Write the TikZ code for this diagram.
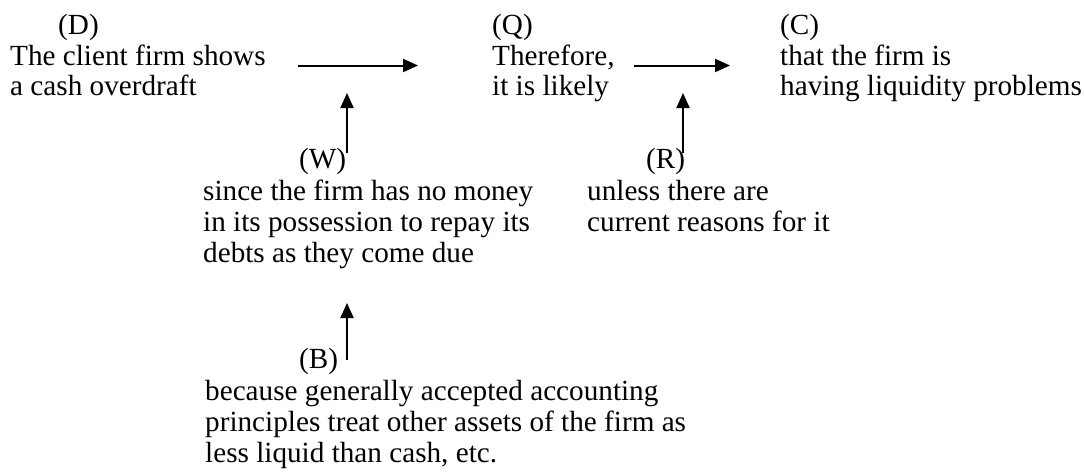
\documentclass[tikz,border=0pt]{standalone}
\usepackage{fontspec}
\setmainfont{Liberation Serif}
\usetikzlibrary{arrows.meta}
\begin{document}
\begin{tikzpicture}[x=1pt,y=-1pt,
  txt/.style={anchor=base west, inner sep=0pt, font=\fontsize{29.2}{31}\selectfont},
  link/.style={line width=2pt, -{Triangle[length=15pt,width=13pt]}}]
\useasboundingbox (0,0) rectangle (1085,474);

% datum
\node[txt] (dlab) at (58,34)  {(D)};
\node[txt] (d1)   at (10,65)  {The client firm shows};
\node[txt] (d2)   at (10,95)  {a cash overdraft};

% qualifier
\node[txt] (qlab) at (492,34) {(Q)};
\node[txt] (q1)   at (492,65) {Therefore,};
\node[txt] (q2)   at (492,95) {it is likely};

% claim
\node[txt] (clab) at (780,34) {(C)};
\node[txt] (c1)   at (780,65) {that the firm is};
\node[txt] (c2)   at (780,95) {having liquidity problems};

% warrant
\node[txt] (wlab) at (299,168) {(W)};
\node[txt] (w1)   at (203,200) {since the firm has no money};
\node[txt] (w2)   at (203,231) {in its possession to repay its};
\node[txt] (w3)   at (203,262) {debts as they come due};

% rebuttal
\node[txt] (rlab) at (646,168) {(R)};
\node[txt] (r1)   at (587,200) {unless there are};
\node[txt] (r2)   at (587,231) {current reasons for it};

% backing
\node[txt] (blab) at (299,368) {(B)};
\node[txt] (b1)   at (205,400) {because generally accepted accounting};
\node[txt] (b2)   at (205,431) {principles treat other assets of the firm as};
\node[txt] (b3)   at (205,462) {less liquid than cash, etc.};

% arrow end points
\coordinate (dq0) at (298,65.5);
\coordinate (dq1) at (418,65.5);
\coordinate (qc0) at (634,65.5);
\coordinate (qc1) at (730,65.5);
\coordinate (w0)  at (347,153);
\coordinate (wt)  at (347,93);
\coordinate (r0)  at (683,153);
\coordinate (rt)  at (683,93);
\coordinate (bb0) at (347,360);
\coordinate (bbt) at (347,303);

\draw[link] (dq0) -- (dq1);
\draw[link] (qc0) -- (qc1);
\draw[link] (w0) -- (wt);
\draw[link] (r0) -- (rt);
\draw[link] (bb0) -- (bbt);
\end{tikzpicture}
\end{document}
